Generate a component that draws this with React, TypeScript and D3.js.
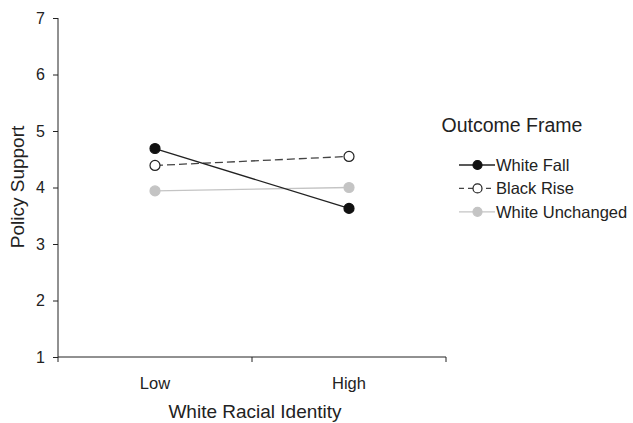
import { useEffect, useRef } from 'react';
import * as d3 from 'd3';

const categories = ['Low', 'High'];
const yTicks = [1, 2, 3, 4, 5, 6, 7];
const seriesNames = ['White Fall', 'Black Rise', 'White Unchanged'];
const whiteFall = [4.69, 3.63];
const blackRise = [4.39, 4.55];
const whiteUnchanged = [3.94, 4.0];

const styles = [
  { stroke: '#222', fill: '#111', markerStroke: '#111', dash: 'none' },
  { stroke: '#444', fill: '#fff', markerStroke: '#222', dash: '8,4' },
  { stroke: '#c4c4c4', fill: '#c4c4c4', markerStroke: '#c4c4c4', dash: 'none' }
];

const width = 633;
const height = 423;

export default function App() {
  const svgRef = useRef<SVGSVGElement>(null);

  useEffect(() => {
    const svg = d3.select(svgRef.current);
    svg.selectAll('*').remove();

    const font = 'Liberation Sans, Arial, sans-serif';
    const left = 58;
    const right = 446;
    const top = 18;
    const bottom = 357;

    const x = d3.scaleBand<string>().domain(categories).range([left, right]);
    const y = d3.scaleLinear().domain([1, 7]).range([bottom, top]);

    svg.append('rect').attr('width', width).attr('height', height).attr('fill', '#fff');

    // y axis
    const yAxis = svg.append('g')
      .attr('transform', `translate(${left},0)`)
      .call(d3.axisLeft(y).tickValues(yTicks).tickFormat(d3.format('d')).tickSize(5).tickPadding(8));
    yAxis.select('.domain').attr('stroke', '#222').attr('d', `M0,${top}V${bottom}`);
    yAxis.selectAll('line').attr('stroke', '#222');
    yAxis.selectAll('text')
      .attr('fill', '#222')
      .style('font-family', font)
      .style('font-size', '16px');

    // x axis
    const xAxis = svg.append('g')
      .attr('transform', `translate(0,${bottom})`);
    xAxis.append('line')
      .attr('x1', left).attr('x2', right)
      .attr('stroke', '#222');
    const bounds = [left, ...categories.slice(1).map(c => x(c) as number), right];
    bounds.forEach(b => {
      xAxis.append('line')
        .attr('x1', b).attr('x2', b)
        .attr('y1', 0).attr('y2', 5)
        .attr('stroke', '#222');
    });
    categories.forEach(c => {
      xAxis.append('text')
        .attr('x', (x(c) as number) + x.bandwidth() / 2)
        .attr('y', 32)
        .attr('text-anchor', 'middle')
        .attr('fill', '#222')
        .style('font-family', font)
        .style('font-size', '16.5px')
        .text(c);
    });

    svg.append('text')
      .attr('x', 255)
      .attr('y', 418)
      .attr('text-anchor', 'middle')
      .attr('fill', '#222')
      .style('font-family', font)
      .style('font-size', '19px')
      .text('White Racial Identity');

    svg.append('text')
      .attr('transform', `translate(24,187) rotate(-90)`)
      .attr('text-anchor', 'middle')
      .attr('fill', '#222')
      .style('font-family', font)
      .style('font-size', '19px')
      .text('Policy Support');

    const series = [whiteFall, blackRise, whiteUnchanged];
    const cx = (i: number) => (x(categories[i]) as number) + x.bandwidth() / 2;
    const line = d3.line<number>().x((d, i) => cx(i)).y(d => y(d));

    // gray first, then dashed, then black on top
    [2, 1, 0].forEach(si => {
      const st = styles[si];
      svg.append('path')
        .datum(series[si])
        .attr('d', line)
        .attr('fill', 'none')
        .attr('stroke', st.stroke)
        .attr('stroke-width', 1.3)
        .attr('stroke-dasharray', st.dash);
      svg.selectAll(null)
        .data(series[si])
        .join('circle')
        .attr('cx', (d, i) => cx(i))
        .attr('cy', d => y(d))
        .attr('r', 5)
        .attr('fill', st.fill)
        .attr('stroke', st.markerStroke)
        .attr('stroke-width', 1.2);
    });

    // legend
    svg.append('text')
      .attr('x', 512)
      .attr('y', 132)
      .attr('text-anchor', 'middle')
      .attr('fill', '#222')
      .style('font-family', font)
      .style('font-size', '19.5px')
      .text('Outcome Frame');

    seriesNames.forEach((name, i) => {
      const st = styles[i];
      const ly = 165 + i * 23.4;
      const g = svg.append('g').attr('transform', `translate(459,${ly})`);
      g.append('line')
        .attr('x1', 0).attr('x2', 36)
        .attr('stroke', st.stroke)
        .attr('stroke-width', 1.3)
        .attr('stroke-dasharray', i === 1 ? '5,4' : 'none');
      g.append('circle')
        .attr('cx', 18.5)
        .attr('r', 4.5)
        .attr('fill', st.fill)
        .attr('stroke', st.markerStroke)
        .attr('stroke-width', 1.2);
      g.append('text')
        .attr('x', 37)
        .attr('y', 6)
        .attr('fill', '#222')
        .style('font-family', font)
        .style('font-size', '16.5px')
        .text(name);
    });
  }, []);

  return (
    <div style={{ position: 'absolute', left: 0, top: 0 }}>
      <svg ref={svgRef} width={width} height={height}></svg>
    </div>
  );
}
